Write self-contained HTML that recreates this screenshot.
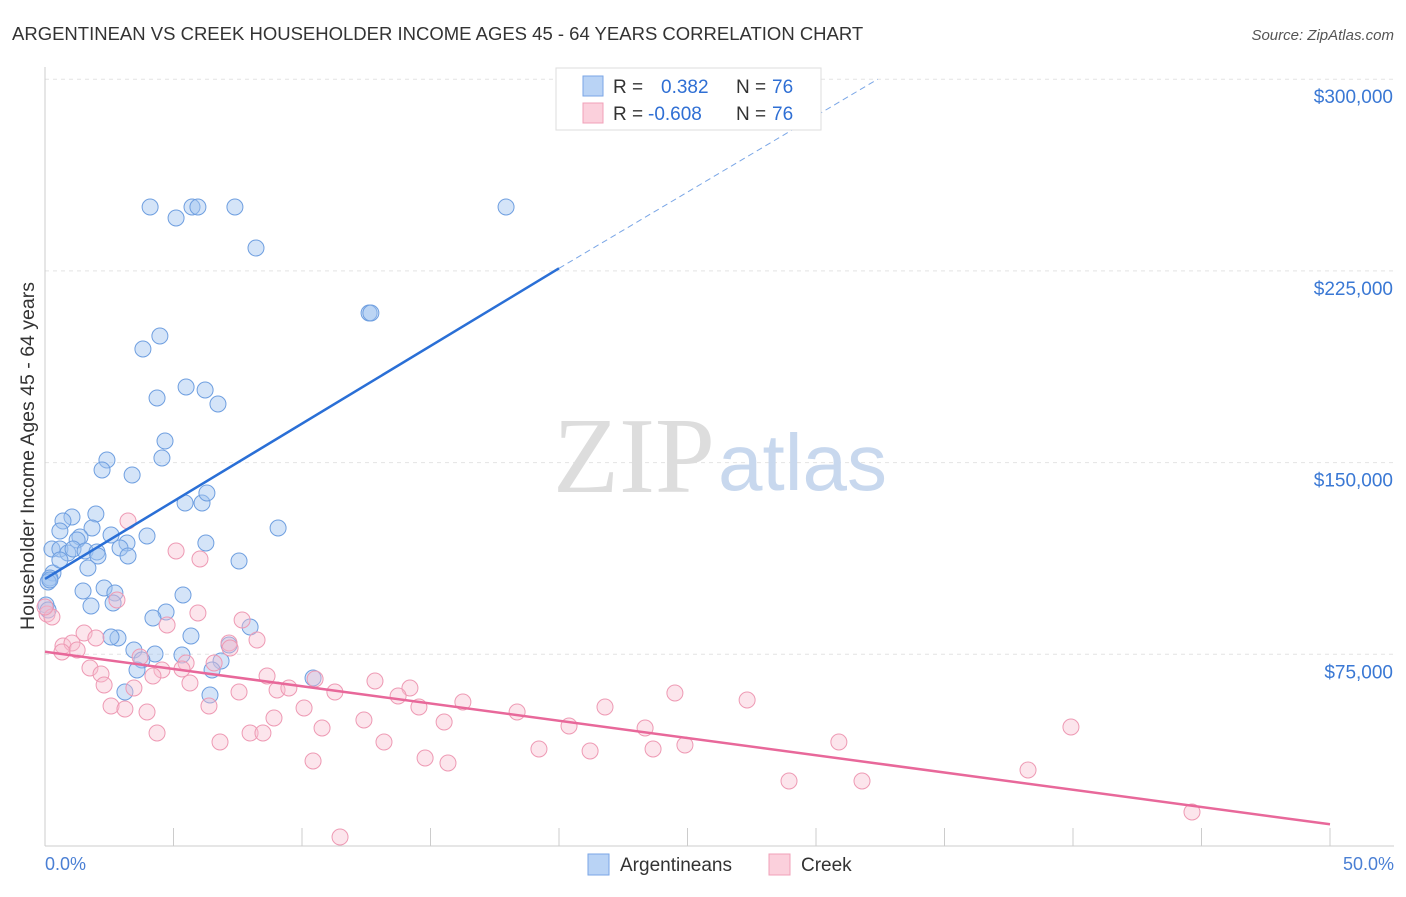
<!DOCTYPE html>
<html><head><meta charset="utf-8"><style>
body{margin:0;background:#fff;font-family:"Liberation Sans",sans-serif;}
</style></head><body>
<svg width="1406" height="892" xmlns="http://www.w3.org/2000/svg">
<text x="12" y="40" font-size="18.5" fill="#333">ARGENTINEAN VS CREEK HOUSEHOLDER INCOME AGES 45 - 64 YEARS CORRELATION CHART</text>
<text x="1394" y="40" font-size="15" fill="#555" font-style="italic" text-anchor="end">Source: ZipAtlas.com</text>
<g id="grid"></g>
<text x="715" y="492" font-size="108" fill="#ddd" font-family="Liberation Serif" text-anchor="end">ZIP</text>
<text x="718" y="490" font-size="80" fill="#c8d8ee">atlas</text>
<g id="points"></g>
<g id="lines"></g>
<text transform="translate(34,456) rotate(-90)" font-size="19.5" fill="#333" text-anchor="middle">Householder Income Ages 45 - 64 years</text>
<text x="45" y="870" font-size="18" fill="#4a7fd4">0.0%</text>
<text x="1394" y="870" font-size="18" fill="#4a7fd4" text-anchor="end">50.0%</text>
<g>
<rect x="556" y="68" width="265" height="62" fill="#fff" stroke="#ddd"/>
<rect x="583" y="76" width="20" height="20" fill="#b9d3f5" stroke="#7aa6e6"/>
<rect x="583" y="103" width="20" height="20" fill="#fbd0dc" stroke="#f0a0b8"/>
<text x="613" y="93" font-size="19" fill="#333">R = </text><text x="661" y="93" font-size="19" fill="#2f6fd4">0.382</text>
<text x="736" y="93" font-size="19" fill="#333">N = </text><text x="772" y="93" font-size="19" fill="#2f6fd4">76</text>
<text x="613" y="120" font-size="19" fill="#333">R = </text><text x="648" y="120" font-size="19" fill="#2f6fd4">-0.608</text>
<text x="736" y="120" font-size="19" fill="#333">N = </text><text x="772" y="120" font-size="19" fill="#2f6fd4">76</text>
</g>
<g>
<rect x="588" y="854" width="21" height="21" fill="#b9d3f5" stroke="#7aa6e6"/>
<text x="620" y="871" font-size="19" fill="#333">Argentineans</text>
<rect x="769" y="854" width="21" height="21" fill="#fbd0dc" stroke="#f0a0b8"/>
<text x="801" y="871" font-size="19" fill="#333">Creek</text>
</g>
</svg>
<script>
const yTicks=[75000,150000,225000,300000];
const yTickLabels=["$75,000","$150,000","$225,000","$300,000"];
const xTicks=[0,5,10,15,20,25,30,35,40,45,50];
const bluePx=[[150,207],[176,218],[192,207],[198,207],[235,207],[506,207],[256,248],[369,313],[371,313],[143,349],[160,336],[157,398],[186,387],[205,390],[218,404],[165,441],[162,458],[107,460],[102,470],[132,475],[185,503],[202,503],[207,493],[278,528],[96,514],[72,517],[63,521],[60,531],[92,528],[147,536],[111,535],[80,537],[77,540],[206,543],[127,543],[120,548],[52,549],[60,549],[68,553],[73,549],[85,551],[97,552],[98,556],[128,556],[239,561],[88,568],[53,573],[50,578],[48,582],[104,588],[83,591],[115,593],[113,603],[91,606],[183,595],[166,612],[153,618],[250,627],[191,636],[118,638],[111,637],[134,650],[155,654],[182,655],[229,645],[142,660],[221,661],[137,670],[212,670],[125,692],[210,695],[313,678],[46,605],[48,610],[50,580],[60,560]];
const pinkPx=[[47,614],[52,617],[45,607],[128,521],[176,551],[200,559],[117,600],[198,613],[242,620],[167,625],[257,640],[229,643],[84,633],[96,638],[63,646],[72,643],[77,650],[62,652],[230,648],[186,663],[140,657],[214,663],[90,668],[101,674],[182,669],[162,670],[267,676],[315,679],[104,685],[190,683],[134,688],[153,676],[239,692],[277,690],[289,688],[335,692],[375,681],[410,688],[398,696],[463,702],[419,707],[304,708],[605,707],[675,693],[747,700],[111,706],[125,709],[147,712],[209,706],[517,712],[274,718],[364,720],[322,728],[444,722],[569,726],[645,728],[1071,727],[157,733],[220,742],[250,733],[263,733],[384,742],[539,749],[590,751],[653,749],[685,745],[839,742],[313,761],[425,758],[448,763],[789,781],[862,781],[1028,770],[1192,812],[340,837]];
const blueX=bluePx.map(p=>+((p[0]-45)/25.7).toFixed(2)), blueY=bluePx.map(p=>Math.round((846-p[1])/191.7*75000));
const pinkX=pinkPx.map(p=>+((p[0]-45)/25.7).toFixed(2)), pinkY=pinkPx.map(p=>Math.round((846-p[1])/191.7*75000));
const blueTrend=[[0,104500],[20,226000],[32.4,300000]];
const pinkTrend=[[0,76000],[50,8500]];
const NS="http://www.w3.org/2000/svg";
const sx=v=>45+v*25.7, sy=v=>846-v/75000*191.7;
function mk(t,a,parent){const e=document.createElementNS(NS,t);for(const k in a)e.setAttribute(k,a[k]);parent.appendChild(e);return e;}
const grid=document.getElementById('grid');
yTicks.forEach((t,i)=>{
 const l=mk('line',{x1:45,x2:1394,y1:sy(t),y2:sy(t),stroke:'#e4e4e4','stroke-dasharray':'4,4'},grid);
 
 
 const tx=mk('text',{x:1393,y:sy(t)+24,'font-size':19,fill:'#3a78d4','text-anchor':'end'},grid);
 tx.textContent=yTickLabels[i];
 
 
});
mk('line',{x1:45,x2:45,y1:67,y2:846,stroke:'#ccc'},grid);
mk('line',{x1:45,x2:1394,y1:846,y2:846,stroke:'#ccc'},grid);
xTicks.forEach(t=>{const l=mk('line',{x1:sx(t),x2:sx(t),y1:828,y2:846,stroke:'#ccc'},grid);
 
 });
const pts=document.getElementById('points');
blueX.forEach((x,i)=>{const c=mk('circle',{cx:sx(x),cy:sy(blueY[i]),r:8,fill:'rgba(160,196,240,0.45)',stroke:'#6f9fe0','stroke-width':1},pts);
 
 });
pinkX.forEach((x,i)=>{const c=mk('circle',{cx:sx(x),cy:sy(pinkY[i]),r:8,fill:'rgba(248,190,208,0.4)',stroke:'#ee9ab4','stroke-width':1},pts);
 
 });
const ln=document.getElementById('lines');
let b=mk('line',{x1:sx(blueTrend[0][0]),y1:sy(blueTrend[0][1]),x2:sx(blueTrend[1][0]),y2:sy(blueTrend[1][1]),stroke:'#2a6fd6','stroke-width':2.5},ln);


let bd=mk('line',{x1:sx(blueTrend[1][0]),y1:sy(blueTrend[1][1]),x2:sx(blueTrend[2][0]),y2:sy(blueTrend[2][1]),stroke:'#7aa6e6','stroke-width':1,'stroke-dasharray':'6,4'},ln);


let p=mk('line',{x1:sx(pinkTrend[0][0]),y1:sy(pinkTrend[0][1]),x2:sx(pinkTrend[1][0]),y2:sy(pinkTrend[1][1]),stroke:'#e8689a','stroke-width':2.5},ln);


</script>
</body></html>
